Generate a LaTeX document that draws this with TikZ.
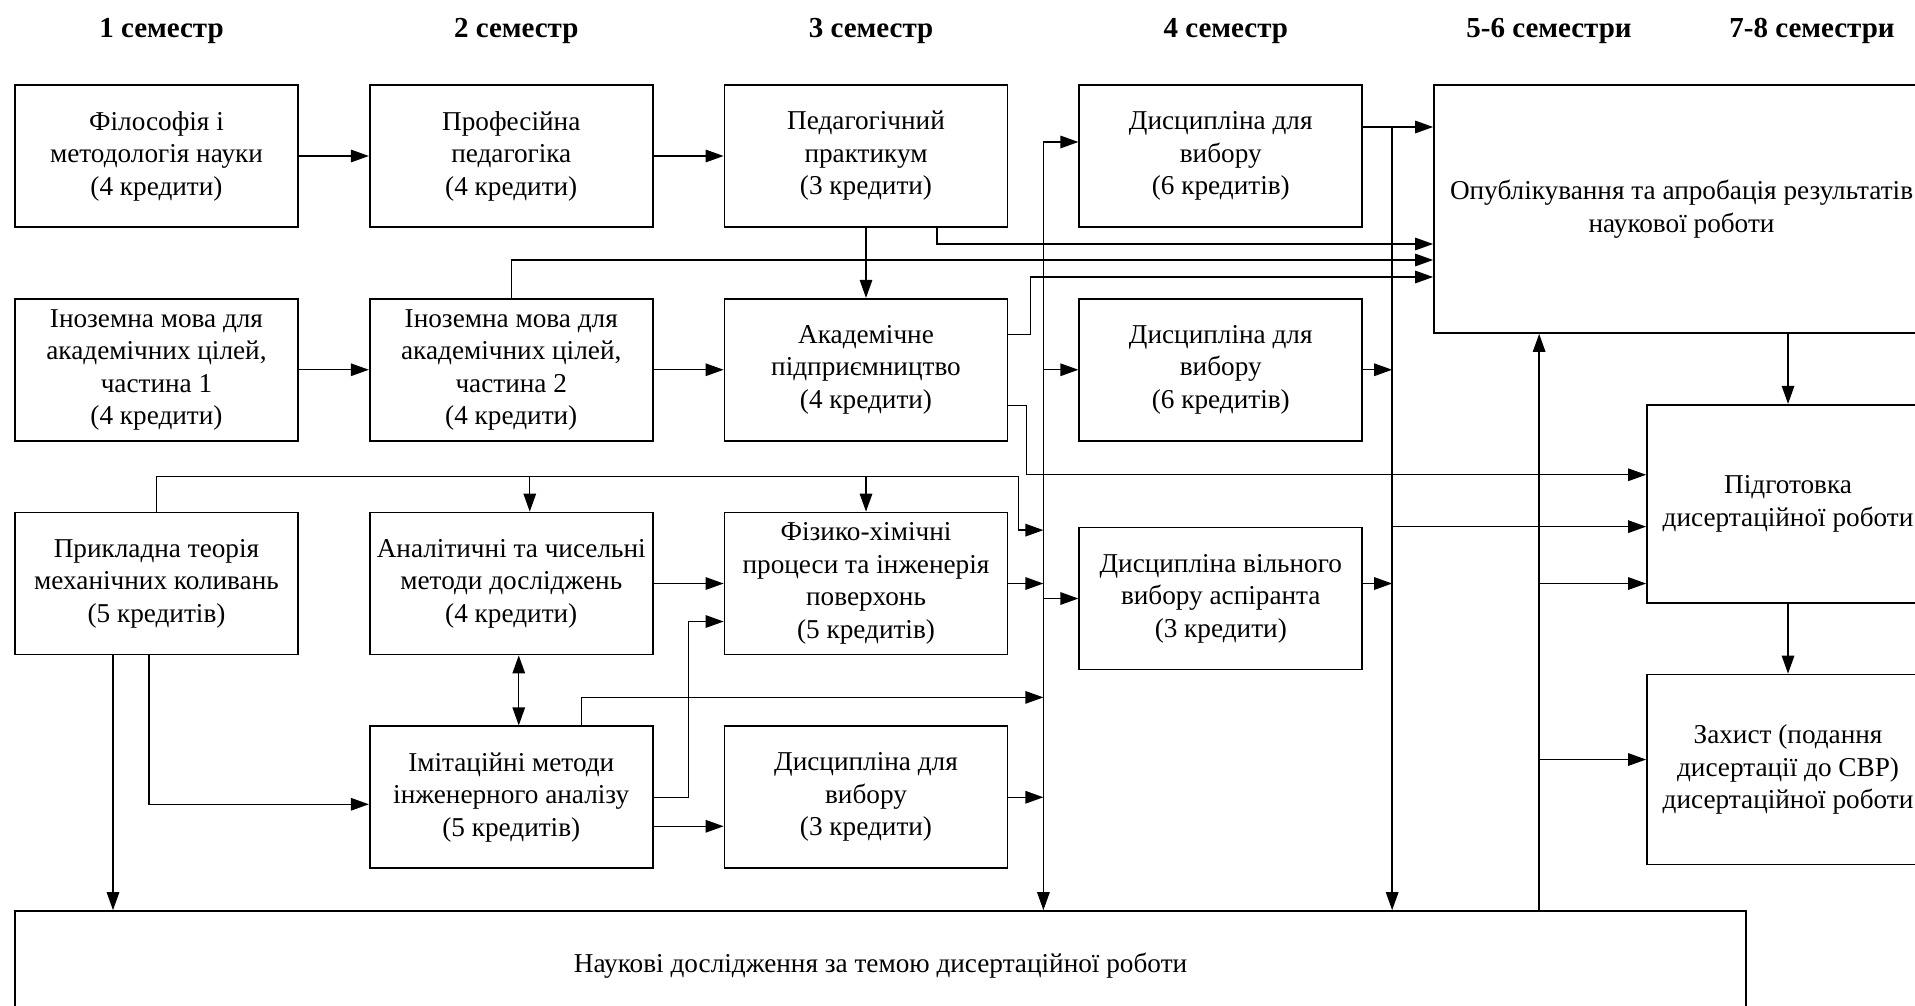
\documentclass[tikz,border=0pt]{standalone}
\usepackage{fontspec}
\setmainfont{Liberation Serif}
\usetikzlibrary{positioning,calc,arrows.meta}
\tikzset{course node/.style={rectangle, draw, line width=1pt, minimum width=5.66cm, minimum height=2.84cm, inner sep=2pt, align=center, font=\fontsize{15.5}{18.5}\selectfont},
head node/.style={font=\fontsize{16.5}{19}\selectfont\bfseries, anchor=base},}

\begin{document}
\begin{tikzpicture}[->, >={Triangle[length=0.36cm,width=0.25cm]}, line width=0.8pt]
        \path[use as bounding box, clip] (0,0) rectangle (38.3,-20.12);
        % Nodes
        \node[course node] (1) at (3.13,-3.12) {Філософія і\\методологія науки\\(4 кредити)};
        \node[course node] [below = 1.4cm of 1] (2) {Іноземна мова для\\академічних цілей,\\частина 1\\(4 кредити)};
        \node[course node] [below = 1.4cm of 2] (3) {Прикладна теорія\\механічних коливань\\(5 кредитів)};
        \node[course node] [right = 1.4cm of 1] (4) {Професійна\\педагогіка\\(4 кредити)};
        \node[course node] [below = 1.4cm of 4] (5) {Іноземна мова для\\академічних цілей,\\частина 2\\(4 кредити)};
        \node[course node] [below = 1.4cm of 5] (6) {Аналітичні та чисельні\\методи досліджень\\(4 кредити)};
        \node[course node] [below = 1.4cm of 6] (7) {Імітаційні методи\\інженерного аналізу\\(5 кредитів)};
        \node[course node] [right = 1.4cm of 4] (8) {Педагогічний\\практикум\\(3 кредити)};
        \node[course node] [below = 1.4cm of 8] (9) {Академічне\\підприємництво\\(4 кредити)};
        \node[course node] [below = 1.4cm of 9] (10) {Фізико-хімічні\\процеси та інженерія\\поверхонь\\(5 кредитів)};
        \node[course node] [below = 1.4cm of 10] (11) {Дисципліна для\\вибору\\(3 кредити)};
        \node[course node] [right = 1.4cm of 8] (12) {Дисципліна для\\вибору\\(6 кредитів)};
        \node[course node] [below = 1.4cm of 12] (13) {Дисципліна для\\вибору\\(6 кредитів)};
        \node[course node] [right = 1.4cm of 10.north east, anchor=north west, yshift=-0.3cm] (14) {Дисципліна вільного\\вибору аспіранта\\(3 кредити)};
        \node[course node, minimum width=9.9cm, minimum height=4.96cm] [right = 1.4cm of 12.north east, anchor=north west] (15) {Опублікування та апробація результатів\\наукової роботи};
        \node[course node, minimum width=5.64cm, minimum height=3.96cm] [below = 1.4cm of 15.south east, anchor=north east] (16) {Підготовка\\дисертаційної роботи};
        \node[course node, minimum width=5.64cm, minimum height=3.8cm] [below = 1.4cm of 16] (17) {Захист (подання\\дисертації до СВР)\\дисертаційної роботи};
        \node[course node, minimum width=34.62cm, minimum height=2.2cm, anchor=north west] (18) at ($(1.west |- 11.south)+(0,-0.82)$) {Наукові дослідження за темою дисертаційної роботи};
        % Semesters
        \coordinate (hd) at (0,-0.76);
        \node[head node, xshift=0.1cm] (h1) at (1 |- hd) {1 семестр};
        \node[head node, xshift=0.1cm] (h2) at (4 |- hd) {2 семестр};
        \node[head node, xshift=0.1cm] (h3) at (8 |- hd) {3 семестр};
        \node[head node, xshift=0.1cm] (h4) at (12 |- hd) {4 семестр};
        \node[head node] (h5) at (30.98,-0.76) {5-6 семестри};
        \node[head node] (h6) at (36.24,-0.76) {7-8 семестри};
        % Bus lines
        \coordinate (ba) at ($(8.east)!0.5!(12.west)$);
        \coordinate (bb) at ($(12.east)+(0.58,0)$);
        \coordinate (bc) at ($(15.south west)+(2.12,0)$);
        \coordinate (a1) at ($(12.west)+(0,0.28)$);
        \coordinate (b1) at ($(12.east)+(0,0.58)$);
        \coordinate (r3) at ($(3.north)+(0,0.7)$);
        \coordinate (d3) at ($(3.south)+(-0.87,0)$);
        \coordinate (e3) at ($(3.south)+(-0.15,0)$);
        % Paths
        \path
        (1) edge (4)
        (4) edge (8)
        (2) edge (5)
        (5) edge (9)
        (6) edge (10)
        (8) edge (9)
        (16) edge (17)
        (10) edge (10 -| ba)
        (11) edge (11 -| ba)
        (13 -| ba) edge (13)
        (14 -| ba) edge (14)
        (13) edge (13 -| bb)
        (14.east |- 10) edge (10 -| bb)
        (14.north -| bb) edge (14.north -| 16.west)
        (10 -| bc) edge (10 -| 16.west)
        (16.north |- 15.south) edge (16.north)
        (b1) edge (b1 -| 15.west)
        (b1 -| bb) edge (bb |- 18.north)
        (bc |- 18.north) edge (bc)
        (r3 -| 10.north) edge (10.north);
        % Elbows
        \draw ($(8.south)+(1.42,0)$) |- ($(15.west)+(0,-0.7)$);
        \draw (5.north) |- ($(15.west)+(0,-1.02)$);
        \draw ($(9.east)+(0,0.71)$) -- ++(0.44,0) |- ($(15.west)+(0,-1.36)$);
        \draw ($(9.east)+(0,-0.71)$) -- ++(0.36,0) |- ($(16.west)+(0,0.58)$);
        \draw (3.north) -- (r3) -| ($(ba |- 14.north)+(-0.5,-0.07)$) -- ($(ba |- 14.north)+(0,-0.07)$);
        \draw ($(r3 -| 6.north)+(0.37,0)$) -- ($(6.north)+(0.37,0)$);
        \draw ($(7.north)+(1.41,0)$) |- ($(ba |- 7.north)+(0,0.56)$);
        \draw (7.east) -- ++(0.7,0) |- ($(10.west)+(0,-0.76)$);
        \draw ($(7.east)+(0,-0.58)$) -- ($(11.west)+(0,-0.58)$);
        \draw[<->] ($(6.south)+(0.15,0)$) -- ($(7.north)+(0.15,0)$);
        \draw (d3) -- (d3 |- 18.north);
        \draw (e3) |- ($(7.west)+(0,-0.14)$);
        \draw[<->] (a1) -| (ba |- 18.north);
        \draw ($(bc |- 17.west)+(0,0.2)$) -- ($(17.west)+(0,0.2)$);
    \end{tikzpicture}
\end{document}
